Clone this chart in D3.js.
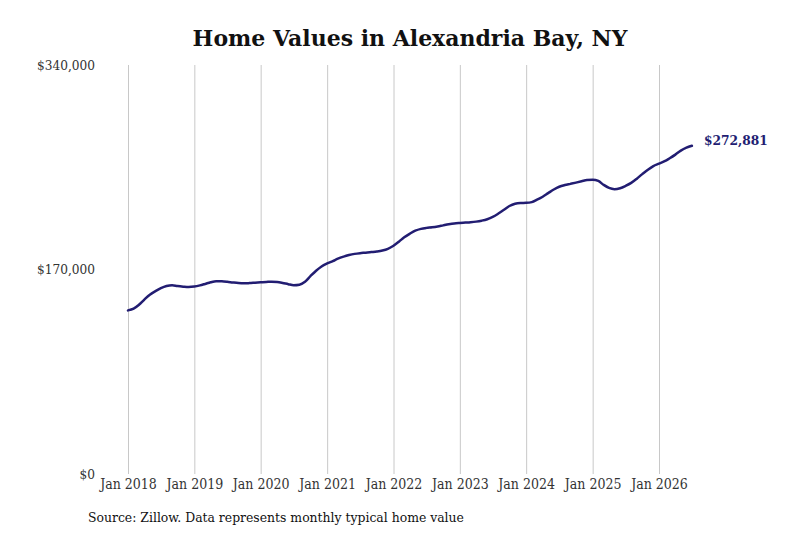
<!doctype html>
<html>
  <head>
    <script src="https://cdn.jsdelivr.net/npm/d3@7/dist/d3.min.js"></script>
    <style>
      body { margin: 0; background: #fff; }
      .lbl { font-family: "DejaVu Serif Condensed", "DejaVu Serif", serif; font-stretch: condensed; }
    </style>
  </head>
  <body>
    <div id="my_dataviz"></div>
    <script>
      // monthly typical home value, Jan 2018 .. Jul 2026
      var startYear = 2018;
      var values2018 = [136000,137500,140500,145000,149000,152000,154500,156300,157000,156200,155700,155400];
      var values2019 = [155800,156800,158000,159400,160300,160200,159800,159200,158700,158500,158700,159000];
      var values2020 = [159300,159600,159900,159600,158800,157800,157000,157400,159800,164500,169000,172500];
      var values2021 = [175000,177000,179000,180700,182000,183000,183600,184000,184500,185000,185800,187200];
      var values2022 = [189800,193300,196800,199800,202300,203800,204600,205100,205800,206700,207600,208300];
      var values2023 = [208700,209000,209300,209800,210600,211800,213700,216500,219700,222800,224700,225300];
      var values2024 = [225400,226000,228000,230500,233500,236500,238800,240200,241200,242200,243300,244400];
      var values2025 = [244600,243600,240500,237800,236800,237600,239500,242000,245500,249300,253000,256000];
      var values2026 = [258000,260000,262500,265500,268800,271300,272881];

      var yTicks = [0, 170000, 340000];
      var xTickYears = [2018,2019,2020,2021,2022,2023,2024,2025,2026];

      var allValues = [].concat(values2018, values2019, values2020, values2021, values2022,
                                values2023, values2024, values2025, values2026);
      var data = allValues.map(function(v, i) {
        return { date: new Date(startYear + Math.floor(i / 12), i % 12, 1), value: v };
      });

      var width = 800, height = 533;
      var svg = d3.select("#my_dataviz")
        .append("svg")
          .attr("width", width)
          .attr("height", height);

      var x = d3.scaleTime()
        .domain([new Date(2018, 0, 1), new Date(2026, 0, 1)])
        .range([128, 659]);
      var y = d3.scaleLinear()
        .domain([0, 340000])
        .range([474, 65]);

      // title
      svg.append("text")
        .attr("x", 410)
        .attr("y", 46)
        .attr("text-anchor", "middle")
        .style("font-family", "'DejaVu Serif', serif")
        .style("font-weight", "bold")
        .style("font-size", "22px")
        .style("fill", "#111")
        .text("Home Values in Alexandria Bay, NY");

      // x axis with vertical grid lines
      var xAxis = svg.append("g")
        .attr("transform", "translate(0," + y(0) + ")")
        .call(d3.axisBottom(x)
          .tickValues(xTickYears.map(function(yr) { return new Date(yr, 0, 1); }))
          .tickFormat(d3.timeFormat("Jan %Y"))
          .tickSize(-(y(0) - y(340000)))
          .tickPadding(5));
      xAxis.select(".domain").remove();
      xAxis.selectAll(".tick line").attr("stroke", "#c8c8c8").attr("stroke-width", 1);
      xAxis.selectAll(".tick text")
        .attr("class", "lbl")
        .style("font-size", "14px")
        .style("fill", "#333");

      // y axis labels only
      var yAxis = svg.append("g")
        .attr("transform", "translate(128,0)")
        .call(d3.axisLeft(y)
          .tickValues(yTicks)
          .tickFormat(function(d) { return "$" + d3.format(",")(d); })
          .tickSize(0)
          .tickPadding(33));
      yAxis.select(".domain").remove();
      yAxis.selectAll(".tick text")
        .attr("class", "lbl")
        .style("font-size", "13.5px")
        .style("fill", "#333");

      // the line
      var line = d3.line()
        .x(function(d) { return x(d.date); })
        .y(function(d) { return y(d.value); })
        .curve(d3.curveMonotoneX);

      svg.append("path")
        .datum(data)
        .attr("d", line)
        .attr("fill", "none")
        .attr("stroke", "#221d72")
        .attr("stroke-width", 2.5)
        .attr("stroke-linecap", "round");

      // end label
      var last = data[data.length - 1];
      svg.append("text")
        .attr("class", "lbl")
        .attr("x", x(last.date) + 12)
        .attr("y", y(last.value) - 5)
        .attr("dy", "0.32em")
        .style("font-size", "13.6px")
        .style("font-weight", "bold")
        .style("fill", "#221d72")
        .text("$" + d3.format(",")(last.value));

      // source note
      svg.append("text")
        .attr("class", "lbl")
        .attr("x", 88)
        .attr("y", 522)
        .style("font-size", "13.8px")
        .style("fill", "#111")
        .text("Source: Zillow. Data represents monthly typical home value");
    </script>
  </body>
</html>
